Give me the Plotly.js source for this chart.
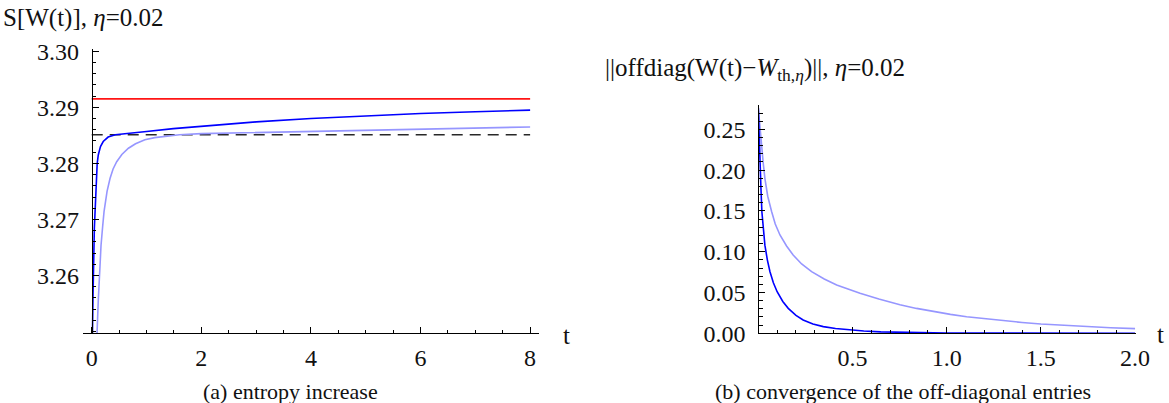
<!DOCTYPE html>
<html>
<head>
<meta charset="utf-8">
<script src="https://cdn.plot.ly/plotly-3.0.1.min.js"></script>
<style>
  html, body { margin: 0; padding: 0; background: #ffffff; }
  #chart { width: 1169px; height: 403px; }
</style>
</head>
<body>
<div id="chart"></div>
<script>
// ---- (a) entropy S[W(t)], eta = 0.02 ----
const entropyDarkT  = [0.005, 0.011, 0.024, 0.048, 0.079, 0.10, 0.12, 0.16, 0.21, 0.30, 0.43, 0.60, 0.79, 1.0, 1.49, 2.0, 3.0, 4.0, 5.0, 6.0, 7.0, 8.0];
const entropyDarkS  = [3.2440, 3.2497, 3.2565, 3.2684, 3.2773, 3.2800, 3.2815, 3.2830, 3.2839, 3.2847, 3.2851, 3.2853, 3.2855, 3.2857, 3.2862, 3.2866, 3.2874, 3.2880, 3.2885, 3.2889, 3.2892, 3.2895];
const entropyLightT = [0.090, 0.097, 0.12, 0.145, 0.17, 0.20, 0.225, 0.28, 0.334, 0.39, 0.456, 0.55, 0.67, 0.80, 0.97, 1.15, 1.34, 1.6, 2.0, 3.0, 4.0, 5.0, 6.0, 7.0, 8.0];
const entropyLightS = [3.2440, 3.2497, 3.2556, 3.2612, 3.2654, 3.2688, 3.2714, 3.2750, 3.2773, 3.2790, 3.2803, 3.2816, 3.2827, 3.2835, 3.2842, 3.2846, 3.2848, 3.2851, 3.2853, 3.2855, 3.2857, 3.2859, 3.2861, 3.2863, 3.2865];
const entropyMaxT   = [0, 8];
const entropyMaxS   = [3.2915, 3.2915];
const entropyThT    = [0, 8];
const entropyThS    = [3.2851, 3.2851];

// ---- (b) off-diagonal norm, eta = 0.02 ----
const offDarkT  = [0.0, 0.004, 0.009, 0.014, 0.019, 0.027, 0.035, 0.048, 0.062, 0.08, 0.10, 0.13, 0.159, 0.20, 0.238, 0.29, 0.345, 0.41, 0.487, 0.56, 0.65, 0.8, 1.0, 1.25, 1.5, 2.0];
const offDarkV  = [0.276, 0.240, 0.210, 0.178, 0.149, 0.125, 0.108, 0.090, 0.0755, 0.062, 0.051, 0.039, 0.0306, 0.022, 0.0163, 0.0115, 0.0082, 0.0058, 0.0040, 0.0028, 0.0018, 0.0009, 0.0004, 0.0002, 0.0001, 0.0];
const offLightT = [0.0, 0.008, 0.017, 0.026, 0.035, 0.05, 0.071, 0.09, 0.115, 0.15, 0.185, 0.23, 0.283, 0.35, 0.416, 0.48, 0.54, 0.64, 0.752, 0.84, 0.929, 1.02, 1.106, 1.2, 1.283, 1.4, 1.5, 1.62, 1.744, 1.87, 2.0];
const offLightV = [0.276, 0.252, 0.231, 0.209, 0.190, 0.168, 0.149, 0.134, 0.1205, 0.107, 0.096, 0.085, 0.0755, 0.0665, 0.0592, 0.0540, 0.0490, 0.0420, 0.0350, 0.0305, 0.0265, 0.0232, 0.0203, 0.0178, 0.0155, 0.0133, 0.0114, 0.0097, 0.0081, 0.0068, 0.0057];

// ---- tick labels ----
const leftXTicks  = [0, 2, 4, 6, 8];
const leftXLabels = ['0', '2', '4', '6', '8'];
const leftYTicks  = [3.26, 3.27, 3.28, 3.29, 3.30];
const leftYLabels = ['3.26', '3.27', '3.28', '3.29', '3.30'];
const rightXTicks  = [0.5, 1.0, 1.5, 2.0];
const rightXLabels = ['0.5', '1.0', '1.5', '2.0'];
const rightYTicks  = [0, 0.05, 0.10, 0.15, 0.20, 0.25];
const rightYLabels = ['0.00', '0.05', '0.10', '0.15', '0.20', '0.25'];

const W = 1169, H = 403;
const px = v => v / W;
const py = v => 1 - v / H;

const DARK = 'rgb(0,0,255)';
const LIGHT = 'rgb(150,150,255)';
const SERIF = 'Liberation Serif';
const TXT = '#111';

const traces = [
  {x: entropyMaxT, y: entropyMaxS, xaxis: 'x', yaxis: 'y', mode: 'lines', line: {color: 'rgb(255,20,20)', width: 1.6}},
  {x: entropyThT, y: entropyThS, xaxis: 'x', yaxis: 'y', mode: 'lines', line: {color: 'rgb(40,40,40)', width: 1.6, dash: '11px,7px'}},
  {x: entropyLightT, y: entropyLightS, xaxis: 'x', yaxis: 'y', mode: 'lines', line: {color: LIGHT, width: 1.6}},
  {x: entropyDarkT, y: entropyDarkS, xaxis: 'x', yaxis: 'y', mode: 'lines', line: {color: DARK, width: 1.6}},
  {x: offLightT, y: offLightV, xaxis: 'x2', yaxis: 'y2', mode: 'lines', line: {color: LIGHT, width: 1.6}},
  {x: offDarkT, y: offDarkV, xaxis: 'x2', yaxis: 'y2', mode: 'lines', line: {color: DARK, width: 1.6}}
];

const axBase = {
  showline: true, linecolor: '#000', linewidth: 1,
  showgrid: false, zeroline: false,
  ticks: 'inside', ticklen: 6, tickwidth: 1, tickcolor: '#000',
  tickmode: 'array',
  tickfont: {family: SERIF, size: 24, color: TXT},
  fixedrange: true
};
const minorBase = {ticks: 'inside', ticklen: 3.5, tickwidth: 1, tickcolor: '#000'};

const layout = {
  width: W, height: H, autosize: false,
  margin: {l: 0, r: 0, t: 0, b: 0},
  paper_bgcolor: '#fff', plot_bgcolor: 'rgba(0,0,0,0)',
  showlegend: false,
  xaxis: Object.assign({}, axBase, {
    domain: [px(83), px(539)], range: [-0.159, 8.162], anchor: 'y',
    tickvals: leftXTicks, ticktext: leftXLabels, ticklabelstandoff: 3,
    minor: Object.assign({tickmode: 'linear', tick0: 0, dtick: 0.5}, minorBase)
  }),
  yaxis: Object.assign({}, axBase, {
    domain: [py(333.3), py(49)], range: [3.2497, 3.3004],
    anchor: 'free', position: px(91.7),
    tickvals: leftYTicks, ticktext: leftYLabels, ticklabelstandoff: 8,
    minor: Object.assign({tickmode: 'linear', tick0: 3.26, dtick: 0.002}, minorBase)
  }),
  xaxis2: Object.assign({}, axBase, {
    domain: [px(758.3), px(1135.8)], range: [0, 2.004], anchor: 'y2',
    tickvals: rightXTicks, ticktext: rightXLabels, ticklabelstandoff: 3,
    minor: Object.assign({tickmode: 'linear', tick0: 0, dtick: 0.1}, minorBase)
  }),
  yaxis2: Object.assign({}, axBase, {
    domain: [py(333.3), py(105)], range: [0, 0.2798],
    anchor: 'free', position: px(758.3),
    tickvals: rightYTicks, ticktext: rightYLabels, ticklabelstandoff: 8,
    minor: Object.assign({tickmode: 'linear', tick0: 0, dtick: 0.01}, minorBase)
  }),
  annotations: [
    {text: 'S[W(t)], <i>η</i>=0.02', xref: 'paper', yref: 'paper', x: px(1), y: py(2),
     xanchor: 'left', yanchor: 'top', showarrow: false, font: {family: SERIF, size: 25, color: TXT}},
    {text: '||offdiag(W(t)−<i>W</i><sub>th,<i>η</i></sub>)||, <i>η</i>=0.02', xref: 'paper', yref: 'paper', x: px(603), y: py(52),
     xanchor: 'left', yanchor: 'top', showarrow: false, font: {family: SERIF, size: 25, color: TXT}},
    {text: 't', xref: 'paper', yref: 'paper', x: px(566), y: py(335),
     xanchor: 'center', yanchor: 'middle', showarrow: false, font: {family: SERIF, size: 25, color: TXT}},
    {text: 't', xref: 'paper', yref: 'paper', x: px(1160), y: py(334),
     xanchor: 'center', yanchor: 'middle', showarrow: false, font: {family: SERIF, size: 25, color: TXT}},
    {text: '(a) entropy increase', xref: 'paper', yref: 'paper', x: px(290), y: py(391),
     xanchor: 'center', yanchor: 'middle', showarrow: false, font: {family: SERIF, size: 22, color: TXT}},
    {text: '(b) convergence of the off-diagonal entries', xref: 'paper', yref: 'paper', x: px(903), y: py(391),
     xanchor: 'center', yanchor: 'middle', showarrow: false, font: {family: SERIF, size: 22, color: TXT}}
  ]
};

Plotly.newPlot('chart', traces, layout, {staticPlot: true, displayModeBar: false});
</script>
</body>
</html>
